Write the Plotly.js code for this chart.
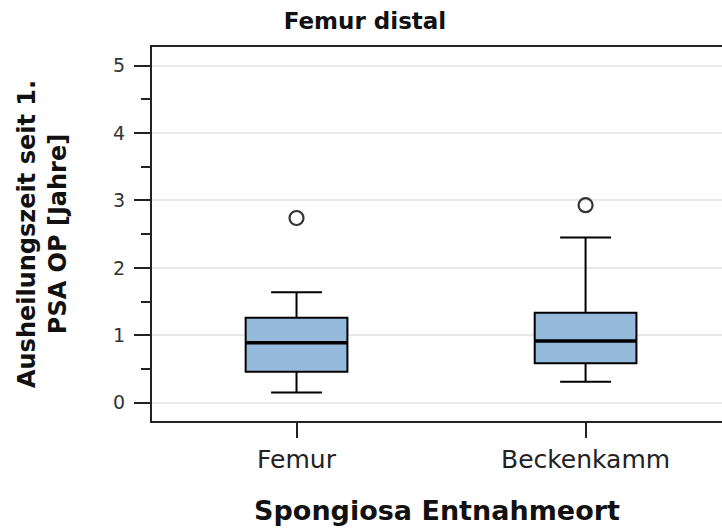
<!DOCTYPE html>
<html>
<head>
<meta charset="utf-8">
<script src="https://cdn.plot.ly/plotly-3.0.1.min.js"></script>
<style>
html,body{margin:0;padding:0;background:#fff;}
#chart{width:722px;height:529px;}
</style>
</head>
<body>
<div id="chart"></div>
<script>
// Data
const categories = ["Femur", "Beckenkamm"];
const lowerWhisker = [0.15, 0.31];
const q1Values = [0.46, 0.585];
const medianValues = [0.89, 0.915];
const q3Values = [1.26, 1.335];
const upperWhisker = [1.64, 2.45];
const outlierValues = [2.74, 2.93];
const yTickValues = [0, 1, 2, 3, 4, 5];

const boxWidth = 0.352;
const FONT = "DejaVu Sans, Liberation Sans, Arial, sans-serif";

const boxTrace = {
  type: "box",
  x: categories,
  q1: q1Values,
  median: medianValues,
  q3: q3Values,
  lowerfence: lowerWhisker,
  upperfence: upperWhisker,
  width: boxWidth,
  whiskerwidth: 0.5,
  boxpoints: false,
  fillcolor: "rgb(150,186,220)",
  line: {color: "#000000", width: 2},
  hoverinfo: "skip",
  showlegend: false
};

const outlierTrace = {
  type: "scatter",
  mode: "markers",
  x: categories,
  y: outlierValues,
  marker: {symbol: "circle-open", size: 14, color: "#333333", line: {width: 2.2, color: "#333333"}},
  hoverinfo: "skip",
  showlegend: false
};

// thicker median lines derived from the median array
const medianShapes = medianValues.map((m, i) => ({
  type: "line", xref: "x", yref: "y",
  x0: i - boxWidth / 2, x1: i + boxWidth / 2, y0: m, y1: m,
  line: {color: "#000000", width: 3.5}
}));

const layout = {
  width: 722, height: 529,
  margin: {l: 152, r: 0, t: 47, b: 108},
  paper_bgcolor: "#ffffff",
  plot_bgcolor: "#ffffff",
  showlegend: false,
  title: {
    text: "<b>Femur distal</b>",
    font: {family: FONT, size: 23, color: "#111111"},
    x: 365 / 722, xref: "container", xanchor: "center",
    y: 1 - 21 / 529, yref: "container", yanchor: "middle"
  },
  xaxis: {
    type: "category",
    range: [-0.5, 1.472],
    showline: true, linecolor: "#222222", linewidth: 2,
    mirror: true,
    ticks: "outside", ticklen: 15, tickwidth: 2, tickcolor: "#222222",
    tickfont: {family: FONT, size: 25, color: "#222222"},
    showgrid: false, zeroline: false,
    title: {
      text: "<b>Spongiosa Entnahmeort</b>",
      font: {family: FONT, size: 27, color: "#111111"},
      standoff: 28
    }
  },
  yaxis: {
    range: [-0.272, 5.277],
    tickvals: yTickValues,
    showline: true, linecolor: "#222222", linewidth: 2,
    ticks: "outside", ticklen: 16, tickwidth: 2, tickcolor: "#222222",
    ticklabelstandoff: 5,
    tickfont: {family: FONT, size: 19, color: "#333333"},
    showgrid: true, gridcolor: "#e8e8e8", gridwidth: 2,
    zeroline: false,
    minor: {dtick: 0.5, ticks: "outside", ticklen: 9, tickwidth: 2, tickcolor: "#222222", showgrid: false},
    title: {
      text: "<b>Ausheilungszeit seit 1.<br>PSA OP [Jahre]</b>",
      font: {family: FONT, size: 24, color: "#111111"},
      standoff: 40
    }
  },
  shapes: medianShapes
};

Plotly.newPlot("chart", [boxTrace, outlierTrace], layout, {staticPlot: true, displayModeBar: false});
</script>
</body>
</html>
